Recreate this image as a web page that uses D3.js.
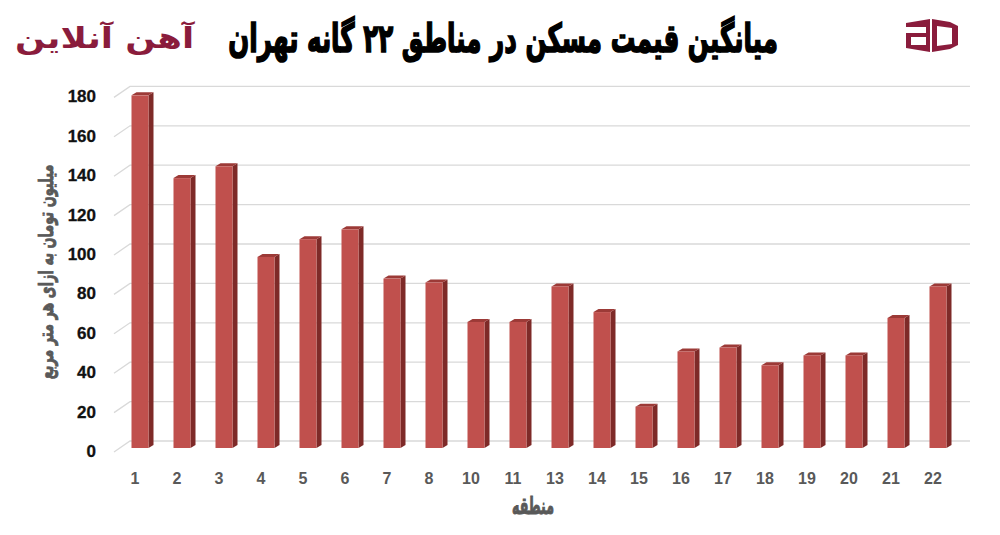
<!DOCTYPE html>
<html>
<head>
<meta charset="utf-8">
<script src="https://cdn.jsdelivr.net/npm/d3@7"></script>
<style>
  html, body { margin: 0; padding: 0; background: #fff; }
  svg { display: block; }
</style>
</head>
<body>
<svg id="chart" width="1000" height="535"></svg>
<script>
// ---- data ----
const categories = ["1","2","3","4","5","6","7","8","10","11","13","14","15","16","17","18","19","20","21","22"];
const values = [179,137,143,97,106,111,86,84,64,64,82,69,21,49,51,42,47,47,66,82];
const yTicks = [0,20,40,60,80,100,120,140,160,180];
const titleText = "میانگین قیمت مسکن در مناطق ۲۲ گانه تهران";
const yTitleText = "میلیون تومان به ازای هر متر مربع";
const xTitleText = "منطقه";
const logoText = "آهن آنلاین";

const svg = d3.select("#chart");
const W = 1000, H = 535;
svg.append("rect").attr("width", W).attr("height", H).attr("fill", "#fff");

const y = d3.scaleLinear().domain([0, 180]).range([448, 93.4]);
const x = d3.scaleBand().domain(categories).range([114, 954]);
const depthX = 16, depthY = 11;   // wall depth
const barDX = 5, barDY = 3;       // bar depth
const barW = 17;

// gridlines (3D: diagonal on side wall + horizontal on back wall)
const grid = svg.append("g");
yTicks.forEach(v => {
  const g = y(v) - 7;
  grid.append("path")
    .attr("d", `M${114},${g + depthY} L${114 + depthX},${g} L970,${g}`)
    .attr("fill", "none").attr("stroke", "#d9d9d9").attr("stroke-width", 1.3);
});

// y tick labels
svg.append("g").selectAll("text").data(yTicks).join("text")
  .attr("x", 96).attr("y", d => y(d) + 3).attr("dy", "0.35em")
  .attr("text-anchor", "end")
  .attr("font-family", "Liberation Sans, Arial, sans-serif")
  .attr("font-weight", "bold").attr("font-size", 17).attr("fill", "#111")
  .attr("stroke", "#111").attr("stroke-width", 0.3)
  .text(d => d);

// bars
const bars = svg.append("g").selectAll("g").data(categories.map((c, i) => ({c, v: values[i]}))).join("g");
const fx = d => x(d.c) + x.bandwidth() / 2 + 5 - barW / 2;
bars.append("path") // side
  .attr("d", d => {
    const a = fx(d) + barW, t = y(d.v), b = y(0);
    return `M${a},${t} L${a + barDX},${t - barDY} L${a + barDX},${b - barDY} L${a},${b} Z`;
  })
  .attr("fill", "#7e2a28");
bars.append("path") // top
  .attr("d", d => {
    const l = fx(d), t = y(d.v);
    return `M${l},${t} L${l + barDX},${t - barDY} L${l + barW + barDX},${t - barDY} L${l + barW},${t} Z`;
  })
  .attr("fill", "#9c3a37");
bars.append("rect") // front
  .attr("x", d => fx(d)).attr("y", d => y(d.v))
  .attr("width", barW).attr("height", d => y(0) - y(d.v))
  .attr("fill", "#c0504d");

// x labels
svg.append("g").selectAll("text").data(categories).join("text")
  .attr("x", d => x(d) + x.bandwidth() / 2).attr("y", 478).attr("dy", "0.35em")
  .attr("text-anchor", "middle")
  .attr("font-family", "Liberation Sans, Arial, sans-serif")
  .attr("font-weight", "bold").attr("font-size", 16).attr("fill", "#595959")
  .text(d => d);

// helper: fit text into a box
function fitText(sel, cx, cy, w, h) {
  const bb = sel.node().getBBox();
  const sx = w / bb.width, sy = h ? h / bb.height : sx;
  sel.attr("transform", `translate(${cx},${cy}) scale(${sx},${sy}) translate(${-(bb.x + bb.width / 2)},${-(bb.y + bb.height / 2)})`);
}

// axis titles
const xt = svg.append("text").attr("direction", "rtl")
  .attr("font-family", "DejaVu Sans, sans-serif").attr("font-weight", "bold")
  .attr("font-size", 16).attr("fill", "#595959").attr("stroke", "#595959").attr("stroke-width", 0.7)
  .text(xTitleText);
fitText(xt, 533, 506, 42, 28);

const ytG = svg.append("g").attr("transform", "translate(47,272) rotate(-90)");
const yt = ytG.append("text").attr("direction", "rtl")
  .attr("font-family", "DejaVu Sans, sans-serif").attr("font-weight", "bold")
  .attr("font-size", 14).attr("fill", "#595959").attr("stroke", "#595959").attr("stroke-width", 0.6)
  .text(yTitleText);
fitText(yt, 0, 0, 215, 24);

// title
const title = svg.append("text").attr("direction", "rtl")
  .attr("font-family", "DejaVu Sans, sans-serif").attr("font-weight", "bold")
  .attr("font-size", 30).attr("fill", "#000").attr("stroke", "#000").attr("stroke-width", 1.3)
  .text(titleText);
fitText(title, 503, 38, 550, 46);

// left logo text
const logo = svg.append("text").attr("direction", "rtl")
  .attr("font-family", "DejaVu Sans, sans-serif").attr("font-weight", "bold")
  .attr("font-size", 30).attr("fill", "#8a1c3c")
  .text(logoText);
fitText(logo, 105, 38, 180, 34);

// right logo (icon)
const ic = svg.append("g").attr("fill", "#8a1c3c").attr("fill-rule", "evenodd");
ic.append("path").attr("d",
  "M906,23 L930,19 L930,52 L906,48 Z " +
  "M906,27 L926,27 L926,33 L906,33 Z " +
  "M911,37 L926,37 L926,45 L911,45 Z");
ic.append("path").attr("d",
  "M932,19 L950,22 L958,26 L958,45 L950,49 L932,52 Z " +
  "M937,26 L952,28 L952,44 L937,46 Z");
</script>
</body>
</html>
